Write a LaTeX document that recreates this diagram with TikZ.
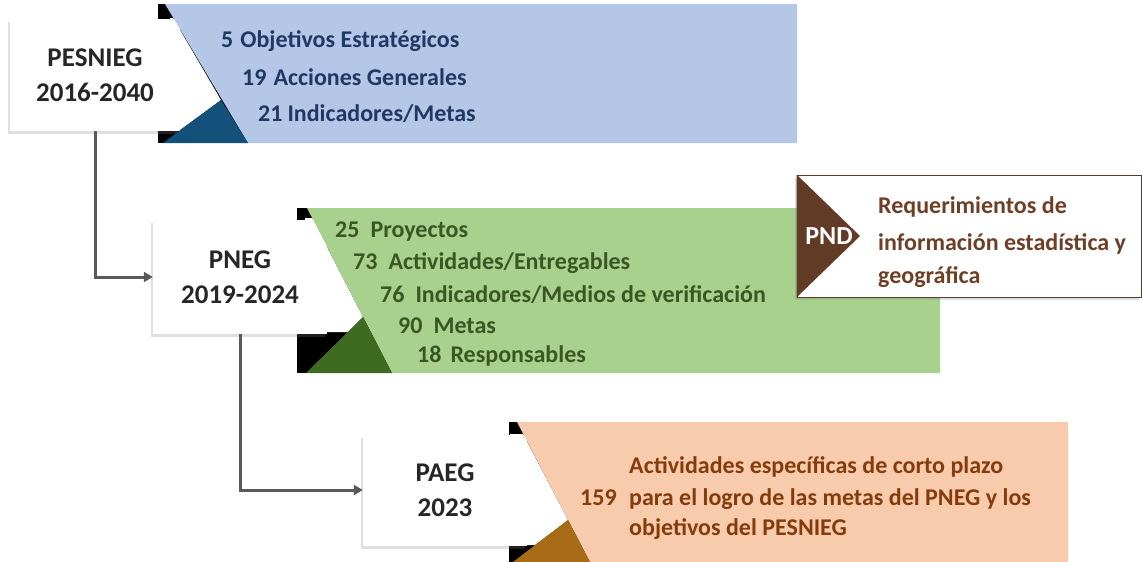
\documentclass[tikz,border=0pt]{standalone}
\usepackage{fontspec}
\setmainfont{Carlito}
\usetikzlibrary{arrows.meta,shadows}
\definecolor{boxtext}{HTML}{262626}
\definecolor{linegray}{HTML}{595959}
\definecolor{bandblue}{HTML}{B4C7E7}
\definecolor{darkblue}{HTML}{13507A}
\definecolor{textblue}{HTML}{203864}
\definecolor{bandgreen}{HTML}{A9D18E}
\definecolor{darkgreen}{HTML}{3E6B1F}
\definecolor{textgreen}{HTML}{385723}
\definecolor{bandpeach}{HTML}{F8CBAD}
\definecolor{darkochre}{HTML}{A86C17}
\definecolor{textbrown}{HTML}{843C0C}
\definecolor{pndbrown}{HTML}{613B26}
\definecolor{pndtext}{HTML}{6E3F25}

\begin{document}
\begin{tikzpicture}[x=1pt,y=-1pt,
  planbox/.style={fill=white, inner sep=0pt, align=center, text=boxtext,
    font=\fontsize{27}{35}\selectfont\bfseries,
    drop shadow={shadow xshift=-2pt, shadow yshift=-3pt, opacity=.25}},
  bandtxt/.style={anchor=base west, inner sep=0pt, font=\fontsize{24}{28}\selectfont\bfseries},
  conn/.style={draw=linegray, line width=3pt, -{Triangle[length=9pt, width=10pt]}}]
\useasboundingbox (0,0) rectangle (1143,562);

% PESNIEG band
\fill[black] (158,4) rectangle (250,143);
\node[planbox, minimum width=170pt, minimum height=112pt] (pesnieg) at (95,75) {PESNIEG\\2016-2040};
\fill[bandblue] (165,4) -- (797,4) -- (797,143) -- (248,143) -- cycle;
\fill[white] (170,18) -- (173,18) -- (221,100) -- (180,130) -- (170,130) -- cycle;
\fill[darkblue] (163,143) -- (221,100) -- (248,143) -- cycle;
\node[bandtxt, text=textblue] (obj) at (221,47) {5\hspace{7pt}Objetivos Estratégicos};
\node[bandtxt, text=textblue] (acc) at (242,85) {19\hspace{7pt}Acciones Generales};
\node[bandtxt, text=textblue] (ind) at (258,121) {21\hspace{5pt}Indicadores/Metas};

% PNEG band
\fill[black] (297,208) rectangle (395,373);
\node[planbox, minimum width=174pt, minimum height=114pt] (pneg) at (240,277) {PNEG\\2019-2024};
\fill[bandgreen] (307,208) -- (940,208) -- (940,373) -- (392,373) -- cycle;
\fill[white] (305,218) -- (312,218) -- (363,317) -- (348,332) -- (305,332) -- cycle;
\fill[darkgreen] (306,373) -- (363,317) -- (392,373) -- cycle;
\node[bandtxt, text=textgreen] (proy) at (335,237) {25\hspace{11pt}Proyectos};
\node[bandtxt, text=textgreen] (act) at (353,269) {73\hspace{11pt}Actividades/Entregables};
\node[bandtxt, text=textgreen] (med) at (380,302) {76\hspace{11pt}Indicadores/Medios de verificación};
\node[bandtxt, text=textgreen] (met) at (398,333) {90\hspace{11pt}Metas};
\node[bandtxt, text=textgreen] (resp) at (417,362) {18\hspace{9pt}Responsables};

% PAEG band
\fill[black] (509,422) rectangle (595,562);
\node[planbox, minimum width=164pt, minimum height=111pt] (paeg) at (445,490) {PAEG\\2023};
\fill[bandpeach] (517,422) -- (1068,422) -- (1068,562) -- (590,562) -- cycle;
\fill[white] (510,434) -- (523,434) -- (568,520) -- (535,545) -- (510,545) -- cycle;
\fill[darkochre] (513,562) -- (568,520) -- (590,562) -- cycle;
\node[bandtxt, text=textbrown] (corto) at (629,473) {Actividades específicas de corto plazo};
\node[bandtxt, text=textbrown] (num) at (580,505) {159};
\node[bandtxt, text=textbrown] (logro) at (629,505) {para el logro de las metas del PNEG y los};
\node[bandtxt, text=textbrown] (objs) at (629,535) {objetivos del PESNIEG};

% PND
\node[fill=white, draw=pndbrown, line width=1pt, minimum width=344pt, minimum height=122pt,
  drop shadow={shadow xshift=-2pt, shadow yshift=-3pt, opacity=.25}] (pnd) at (969,236) {};
\fill[pndbrown] (pnd.north west) -- (860,236) -- (pnd.south west) -- cycle;
\node[text=white, font=\fontsize{26}{28}\selectfont\bfseries] (pndlbl) at (829,236) {PND};
\node[bandtxt, text=pndtext] (req1) at (878,213) {Requerimientos de};
\node[bandtxt, text=pndtext] (req2) at (878,250) {información estadística y};
\node[bandtxt, text=pndtext] (req3) at (878,283) {geográfica};

% connectors
\draw[conn] (pesnieg.south) |- (pneg.west);
\draw[conn] (pneg.south) |- (paeg.west);
\end{tikzpicture}
\end{document}
